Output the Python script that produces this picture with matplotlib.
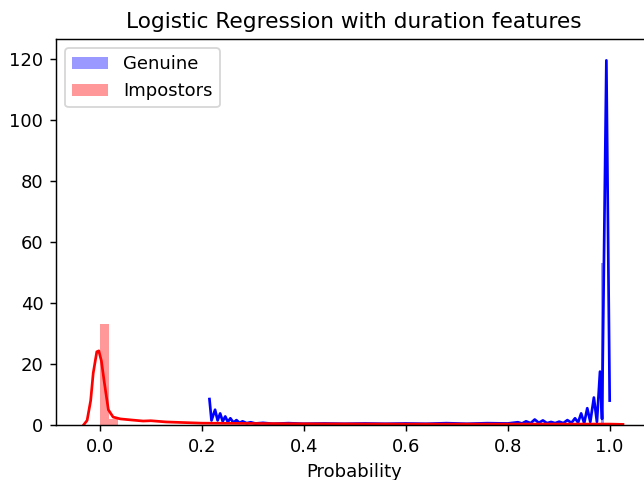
import matplotlib
matplotlib.use("Agg")
import matplotlib.pyplot as plt
from matplotlib.patches import Patch

# KDE curves
genuine_x = [0.215, 0.219, 0.226, 0.231, 0.236, 0.241, 0.246, 0.251, 0.256, 0.262,
             0.268, 0.274, 0.280, 0.288, 0.296, 0.305, 0.32, 0.34, 0.37, 0.40,
             0.44, 0.48, 0.52, 0.56, 0.60, 0.64, 0.68, 0.72, 0.76, 0.80,
             0.82, 0.828, 0.836, 0.845, 0.853, 0.861, 0.869, 0.877, 0.885, 0.893,
             0.901, 0.909, 0.917, 0.925, 0.932, 0.938, 0.944, 0.950, 0.956, 0.962,
             0.969, 0.975, 0.981, 0.985, 0.9935, 1.0]
genuine_y = [8.5, 1.5, 5.0, 1.5, 3.8, 1.2, 2.8, 1.0, 2.2, 0.8,
             1.6, 0.7, 1.2, 0.6, 0.9, 0.5, 0.7, 0.4, 0.6, 0.4,
             0.5, 0.4, 0.5, 0.4, 0.5, 0.4, 0.6, 0.4, 0.6, 0.5,
             0.9, 0.5, 1.2, 0.6, 1.8, 0.7, 1.5, 0.6, 1.0, 0.6,
             1.1, 0.6, 1.6, 0.7, 2.2, 0.8, 3.8, 0.6, 5.5, 1.0,
             9.0, 1.0, 17.5, 2.0, 119.5, 8.0]

impostor_x = [-0.032, -0.025, -0.018, -0.013, -0.006, -0.002, 0.003, 0.009, 0.0167,
              0.026, 0.04, 0.065, 0.085, 0.10, 0.13, 0.2, 0.4, 0.6, 0.8, 1.0, 1.026]
impostor_y = [0.0, 1.5, 8.0, 17.0, 24.0, 24.3, 21.0, 13.7, 5.0,
              2.6, 2.0, 1.6, 1.3, 1.4, 1.0, 0.6, 0.4, 0.3, 0.3, 0.3, 0.2]

# histogram bars (left edge, width, height)
genuine_bins = [0.982]
genuine_widths = [0.006]
genuine_heights = [53.0]

impostor_bins = [0.0, 0.018]
impostor_widths = [0.018, 0.018]
impostor_heights = [33.0, 2.0]

dpi = 130
fig = plt.figure(figsize=(644 / dpi, 480 / dpi), dpi=dpi)
ax = fig.add_axes([56 / 644, 55 / 480, 596 / 644, 386 / 480])

ax.bar(genuine_bins, genuine_heights, width=genuine_widths, align="edge",
       color="blue", alpha=0.4, linewidth=0)
ax.bar(impostor_bins, impostor_heights, width=impostor_widths, align="edge",
       color="red", alpha=0.4, linewidth=0)
ax.plot(genuine_x, genuine_y, color="blue", lw=1.5)
ax.plot(impostor_x, impostor_y, color="red", lw=1.5)

ax.set_xlim(-0.086, 1.083)
ax.set_ylim(0, 126.5)
ax.set_xticks([0.0, 0.2, 0.4, 0.6, 0.8, 1.0])
ax.set_yticks([0, 20, 40, 60, 80, 100, 120])

handles = [Patch(facecolor="blue", alpha=0.4, linewidth=0, label="Genuine"),
           Patch(facecolor="red", alpha=0.4, linewidth=0, label="Impostors")]
ax.legend(handles=handles, loc="upper left")

ax.set_title("Logistic Regression with duration features")
ax.set_xlabel("Probability")

fig.savefig("out.png", dpi=dpi)
